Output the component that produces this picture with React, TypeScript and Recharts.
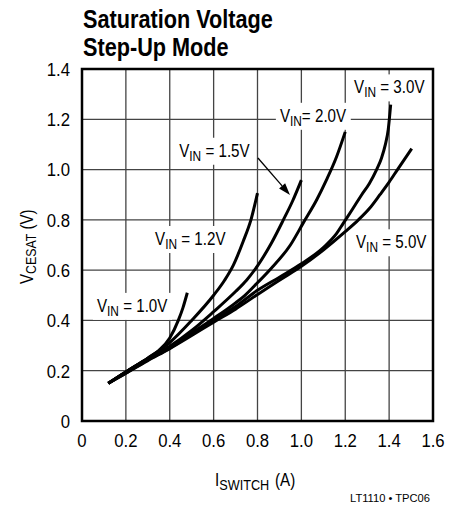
import React, { useLayoutEffect, useRef, useState } from 'react';
import { LineChart, Line, XAxis, YAxis, CartesianGrid, ReferenceDot, ReferenceLine, ReferenceArea } from 'recharts';

const FONT = "'Liberation Sans', Arial, sans-serif";
const SX = 0.82; // horizontal condensation to mimic a narrow face

// axis ticks
const xTicks = [0, 0.2, 0.4, 0.6, 0.8, 1.0, 1.2, 1.4, 1.6];
const yTicks = [0, 0.2, 0.4, 0.6, 0.8, 1.0, 1.2, 1.4];

// series: I_SWITCH (A) vs V_CESAT (V)
const vin10X = [0.12, 0.2, 0.3, 0.35, 0.4, 0.439, 0.46, 0.48];
const vin10Y = [0.15, 0.195, 0.25, 0.28, 0.33, 0.4, 0.45, 0.51];

const vin12X = [0.12, 0.2, 0.3, 0.4, 0.5, 0.6, 0.65, 0.69, 0.735, 0.77, 0.8];
const vin12Y = [0.15, 0.195, 0.25, 0.312, 0.4, 0.5, 0.56, 0.62, 0.715, 0.8, 0.906];

const vin15X = [0.12, 0.2, 0.3, 0.4, 0.5, 0.6, 0.7, 0.75, 0.8, 0.865, 0.918, 0.96, 1.0];
const vin15Y = [0.15, 0.195, 0.248, 0.297, 0.36, 0.435, 0.515, 0.56, 0.617, 0.71, 0.8, 0.875, 0.958];

const vin20X = [0.12, 0.2, 0.3, 0.4, 0.5, 0.6, 0.7, 0.743, 0.8, 0.86, 0.95, 1.01, 1.07, 1.115, 1.16, 1.2];
const vin20Y = [0.15, 0.195, 0.245, 0.293, 0.35, 0.408, 0.47, 0.5, 0.55, 0.605, 0.7, 0.79, 0.88, 0.96, 1.05, 1.15];

const vin30X = [0.12, 0.2, 0.3, 0.4, 0.5, 0.6, 0.7, 0.8, 0.9, 1.0, 1.1, 1.16, 1.19, 1.235, 1.275, 1.31, 1.343, 1.365, 1.383, 1.396, 1.407];
const vin30Y = [0.15, 0.19, 0.243, 0.29, 0.345, 0.4, 0.455, 0.52, 0.572, 0.625, 0.69, 0.745, 0.785, 0.845, 0.9, 0.945, 1.0, 1.045, 1.1, 1.16, 1.258];

const vin50X = [0.12, 0.2, 0.3, 0.4, 0.5, 0.6, 0.7, 0.8, 0.9, 1.0, 1.1, 1.2, 1.26, 1.31, 1.358, 1.4, 1.442, 1.503];
const vin50Y = [0.15, 0.19, 0.24, 0.288, 0.34, 0.393, 0.445, 0.503, 0.56, 0.615, 0.68, 0.753, 0.8, 0.845, 0.9, 0.95, 1.005, 1.083];

// curve annotations: text and anchor (left, baseline) in data units
const labelTexts = ['1.0V', '1.2V', '1.5V', '2.0V', '3.0V', '5.0V'];
const labelAnchorX = [0.068, 0.333, 0.443, 0.902, 1.24, 1.249];
const labelAnchorY = [0.434, 0.7, 1.051, 1.19, 1.303, 0.687];
const labelTight = [false, false, false, true, false, false];

// arrow for V_IN = 1.5V (from, to) in data units
const arrowX = [0.802, 0.948];
const arrowY = [1.046, 0.899];

const toPts = (xs: number[], ys: number[]) => xs.map((x, i) => ({ x, y: ys[i] }));

const series = [
  toPts(vin10X, vin10Y),
  toPts(vin12X, vin12Y),
  toPts(vin15X, vin15Y),
  toPts(vin20X, vin20Y),
  toPts(vin30X, vin30Y),
  toPts(vin50X, vin50Y),
];

const fmt = (v: number) => (v === 0 ? '0' : v.toFixed(1));

function XTick({ x, y, payload }: any) {
  return (
    <g transform={`translate(${x},${y}) scale(0.88,1)`}>
      <text x={0} y={0} dy="0.71em" textAnchor="middle" fontFamily={FONT} fontSize={19} fill="#000">
        {fmt(payload.value)}
      </text>
    </g>
  );
}

function YTick({ x, y, payload }: any) {
  return (
    <g transform={`translate(${x},${y}) scale(0.88,1)`}>
      <text x={0} y={0} dy="0.36em" textAnchor="end" fontFamily={FONT} fontSize={19} fill="#000">
        {fmt(payload.value)}
      </text>
    </g>
  );
}

function VinLabel({ cx, cy, txt, tight }: any) {
  const ref = useRef<SVGTextElement>(null);
  const [w, setW] = useState(0);
  useLayoutEffect(() => {
    if (ref.current) setW(ref.current.getBBox().width * SX);
  }, [cx, cy, txt]);
  if (cx == null || cy == null) return null;
  return (
    <g>
      {w > 0 && <rect x={cx - 4} y={cy - 19} width={w + 8} height={27} fill="#fff" />}
      <g transform={`translate(${cx},${cy}) scale(${SX},1)`}>
        <text ref={ref} x={0} y={0} fontFamily={FONT} fontSize={18.5} fill="#000">
          <tspan>V</tspan>
          <tspan dy={4} fontSize={14.5}>IN</tspan>
          <tspan dy={-4}>{tight ? '= ' : ' = '}{txt}</tspan>
        </text>
      </g>
    </g>
  );
}

function Arrow(props: any) {
  const { x1, y1, x2, y2 } = props;
  if ([x1, y1, x2, y2].some((v) => v == null || isNaN(v))) return null;
  const ang = Math.atan2(y2 - y1, x2 - x1);
  const L = 12;
  const W = 4;
  const bx = x2 - L * Math.cos(ang);
  const by = y2 - L * Math.sin(ang);
  const px = -Math.sin(ang) * W;
  const py = Math.cos(ang) * W;
  return (
    <g>
      <line x1={x1} y1={y1} x2={bx} y2={by} stroke="#000" strokeWidth={1.3} />
      <polygon points={`${x2},${y2} ${bx + px},${by + py} ${bx - px},${by - py}`} fill="#000" />
    </g>
  );
}

export default function App() {
  return (
    <div style={{ position: 'absolute', left: 0, top: 0, width: 463, height: 512, background: '#fff' }}>
      <LineChart width={463} height={512} margin={{ top: 69, right: 30, bottom: 51, left: 22 }}>
        <CartesianGrid stroke="#444" strokeWidth={1.3} />
        <XAxis
          type="number"
          dataKey="x"
          domain={[0, 1.6]}
          ticks={xTicks}
          allowDataOverflow
          height={40}
          axisLine={false}
          tickLine={false}
          tickSize={0}
          tickMargin={12}
          tick={<XTick />}
          interval={0}
        />
        <YAxis
          type="number"
          dataKey="y"
          domain={[0, 1.4]}
          ticks={yTicks}
          allowDataOverflow
          width={60}
          axisLine={false}
          tickLine={false}
          tickSize={0}
          tickMargin={12}
          tick={<YTick />}
          interval={0}
        />
        <ReferenceArea x1={0} x2={1.6} y1={0} y2={1.4} fill="none" fillOpacity={0} stroke="#000" strokeWidth={2.5} ifOverflow="visible" />
        {series.map((d, i) => (
          <Line
            key={i}
            data={d}
            dataKey="y"
            type="monotone"
            stroke="#000"
            strokeWidth={3}
            dot={false}
            activeDot={false}
            isAnimationActive={false}
          />
        ))}
        <ReferenceLine
          segment={[{ x: arrowX[0], y: arrowY[0] }, { x: arrowX[1], y: arrowY[1] }]}
          ifOverflow="visible"
          shape={(p: any) => <Arrow {...p} />}
        />
        {labelTexts.map((t, i) => (
          <ReferenceDot
            key={t}
            x={labelAnchorX[i]}
            y={labelAnchorY[i]}
            r={1}
            ifOverflow="visible"
            shape={(p: any) => <VinLabel cx={p.cx} cy={p.cy} txt={t} tight={labelTight[i]} />}
          />
        ))}
      </LineChart>
      <svg width={463} height={512} style={{ position: 'absolute', left: 0, top: 0, pointerEvents: 'none' }}>
        <g transform="translate(83,28) scale(0.85,1)">
          <text x={0} y={0} fontFamily={FONT} fontWeight="bold" fontSize={25.5} fill="#000">Saturation Voltage</text>
        </g>
        <g transform="translate(83,56) scale(0.85,1)">
          <text x={0} y={0} fontFamily={FONT} fontWeight="bold" fontSize={25.5} fill="#000">Step-Up Mode</text>
        </g>
        <g transform={`translate(215,486) scale(${SX},1)`}>
          <text x={0} y={0} fontFamily={FONT} fontSize={18.5} fill="#000">
            <tspan>I</tspan>
            <tspan dy={4} fontSize={15.5}>SWITCH</tspan>
            <tspan dy={-4} dx={7}>(A)</tspan>
          </text>
        </g>
        <g transform={`translate(33,284) rotate(-90) scale(${SX},1)`}>
          <text x={0} y={0} fontFamily={FONT} fontSize={18.5} fill="#000">
            <tspan>V</tspan>
            <tspan dy={3} fontSize={15}>CESAT</tspan>
            <tspan dy={-3}> (V)</tspan>
          </text>
        </g>
        <text x={430} y={502} textAnchor="end" fontFamily={FONT} fontSize={10} textLength={80} lengthAdjust="spacingAndGlyphs" fill="#000">LT1110 • TPC06</text>
      </svg>
    </div>
  );
}
